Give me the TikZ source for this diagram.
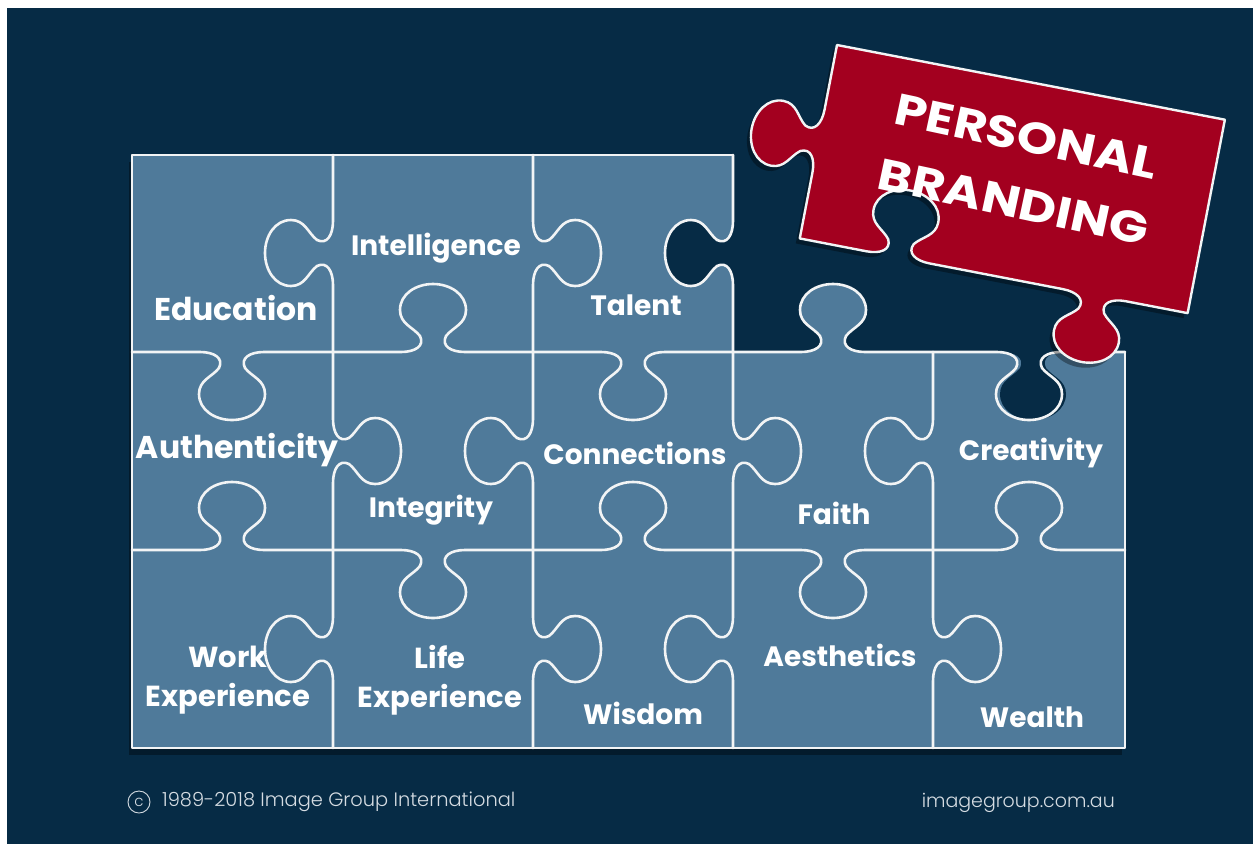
\documentclass[tikz,border=0pt]{standalone}
\usepackage{fontspec}
\setmainfont{Poppins}
\newfontfamily\footfont{Poppins Light}
\usetikzlibrary{shadows}
\definecolor{navy}{HTML}{062B45}
\definecolor{board}{HTML}{4F7A9A}
\definecolor{brand}{HTML}{A3001F}
\definecolor{chalk}{HTML}{F2F4F5}
\definecolor{foot}{HTML}{D5DCE2}

% horizontal edge of length 200 from x0 (#1) at y (#2), direction #3 (+1 right,-1 left), knob side #4 (+1 down,-1 up)
\newcommand\hk[4]{%
 -- ({#1+(#3)*68},{#2})
 .. controls ({#1+(#3)*82},{#2}) and ({#1+(#3)*92},{#2+(#4)*6}) .. ({#1+(#3)*87},{#2+(#4)*16})
 .. controls ({#1+(#3)*80},{#2+(#4)*25}) and ({#1+(#3)*67},{#2+(#4)*28}) .. ({#1+(#3)*67},{#2+(#4)*42})
 .. controls ({#1+(#3)*67},{#2+(#4)*58}) and ({#1+(#3)*83},{#2+(#4)*68}) .. ({#1+(#3)*100},{#2+(#4)*68})
 .. controls ({#1+(#3)*117},{#2+(#4)*68}) and ({#1+(#3)*133},{#2+(#4)*58}) .. ({#1+(#3)*133},{#2+(#4)*42})
 .. controls ({#1+(#3)*133},{#2+(#4)*28}) and ({#1+(#3)*120},{#2+(#4)*25}) .. ({#1+(#3)*113},{#2+(#4)*16})
 .. controls ({#1+(#3)*108},{#2+(#4)*6}) and ({#1+(#3)*118},{#2}) .. ({#1+(#3)*132},{#2})}
% vertical edge of length 200 at x (#1) from y0 (#2), direction #3 (+1 down,-1 up), knob side #4 (+1 right,-1 left)
\newcommand\vk[4]{%
 -- ({#1},{#2+(#3)*68})
 .. controls ({#1},{#2+(#3)*82}) and ({#1+(#4)*6},{#2+(#3)*92}) .. ({#1+(#4)*16},{#2+(#3)*87})
 .. controls ({#1+(#4)*25},{#2+(#3)*80}) and ({#1+(#4)*28},{#2+(#3)*67}) .. ({#1+(#4)*42},{#2+(#3)*67})
 .. controls ({#1+(#4)*58},{#2+(#3)*67}) and ({#1+(#4)*68},{#2+(#3)*83}) .. ({#1+(#4)*68},{#2+(#3)*100})
 .. controls ({#1+(#4)*68},{#2+(#3)*117}) and ({#1+(#4)*58},{#2+(#3)*133}) .. ({#1+(#4)*42},{#2+(#3)*133})
 .. controls ({#1+(#4)*28},{#2+(#3)*133}) and ({#1+(#4)*25},{#2+(#3)*120}) .. ({#1+(#4)*16},{#2+(#3)*113})
 .. controls ({#1+(#4)*6},{#2+(#3)*108}) and ({#1},{#2+(#3)*118}) .. ({#1},{#2+(#3)*132})}

\tikzset{
  chalkline/.style={draw=chalk, line width=2.6pt, line join=round, line cap=round},
  lbl/.style={text=white, font=\bfseries\fontsize{28}{39}\selectfont, align=center, inner sep=0pt},
  biglbl/.style={lbl, font=\bfseries\fontsize{31.5}{39}\selectfont},
  brandtxt/.style={text=white, font=\bfseries\fontsize{44}{48}\selectfont, inner sep=0pt},
  foottxt/.style={text=foot, font=\footfont\fontsize{19.4}{22}\selectfont, inner sep=0pt}
}

\begin{document}
\begin{tikzpicture}[x=1pt, y=-1pt]
\useasboundingbox (0,0) rectangle (1253,844);
\fill[white] (0,0) rectangle (1253,844);
\fill[navy] (7,8) rectangle (1253,844);

% board
\fill[board, drop shadow={shadow xshift=-3pt, shadow yshift=-7pt, opacity=0.35, fill=black}]
  (132,155) rectangle (1125,748);

% missing area (where the red piece belongs)
\fill[navy] (733,155) \vk{733}{153}{1}{-1} -- (733,352)
  \hk{733}{352}{1}{-1} \hk{933}{352}{1}{1} -- (1125,352) -- (1125,150) -- (733,150) -- cycle;

% grid lines
\path[chalkline] (333,155) \vk{333}{153}{1}{-1} \vk{333}{351}{1}{1} \vk{333}{549}{1}{-1} -- (333,748);
\path[chalkline] (533,155) \vk{533}{153}{1}{1} \vk{533}{351}{1}{-1} \vk{533}{549}{1}{1} -- (533,748);
\path[chalkline] (733,155) \vk{733}{153}{1}{-1} \vk{733}{351}{1}{1} \vk{733}{549}{1}{-1} -- (733,748);
\path[chalkline] (933,352) \vk{933}{351}{1}{-1} \vk{933}{549}{1}{1} -- (933,748);
\path[chalkline] (132,352) \hk{132}{352}{1}{1} \hk{333}{352}{1}{-1} \hk{533}{352}{1}{1} \hk{733}{352}{1}{-1} \hk{929}{352}{1}{1} -- (1125,352);
\path[chalkline] (132,550) \hk{132}{550}{1}{-1} \hk{333}{550}{1}{1} \hk{533}{550}{1}{-1} \hk{733}{550}{1}{1} \hk{929}{550}{1}{-1} -- (1125,550);
% board outline
\path[chalkline] (733,155) -- (132,155) -- (132,748) -- (1125,748) -- (1125,352);

% labels
\node[biglbl] (education) at (236,308) {Education};
\node[lbl] (intelligence) at (436,248) {Intelligence};
\node[lbl] (talent) at (636,305) {Talent};
\node[biglbl] (authenticity) at (237,450) {Authenticity};
\node[lbl] (connections) at (635,453) {Connections};
\node[lbl] (creativity) at (1031,453) {Creativity};
\node[lbl] (integrity) at (431,510) {Integrity};
\node[lbl] (faith) at (834,513) {Faith};
\node[lbl, font=\bfseries\fontsize{29}{39}\selectfont] (work) at (228,680) {Work\\Experience};
\node[lbl, font=\bfseries\fontsize{29}{39}\selectfont] (life) at (440,680) {Life\\Experience};
\node[lbl] (wisdom) at (643,713) {Wisdom};
\node[lbl] (aesthetics) at (840,655) {Aesthetics};
\node[lbl] (wealth) at (1032,717) {Wealth};

% red piece
\begin{scope}[shift={(837,45)}, rotate=-10.9]
\path[fill=brand, draw=chalk, line width=2.4pt, line join=round,
      drop shadow={shadow xshift=-4pt, shadow yshift=-5pt, opacity=0.35, fill=black}]
  (0,0) -- (395,0) -- (395,197) \hk{400}{197}{-1}{1} \hk{200}{197}{-1}{-1} -- (0,197)
  \vk{0}{198}{-1}{-1} -- cycle;
\node[brandtxt, transform shape, rotate=-1.2, xscale=1.17] (personal) at (203,54) {PERSONAL};
\node[brandtxt, transform shape, rotate=-1.2, xscale=1.17] (branding) at (203,121) {BRANDING};
\end{scope}

% footer
\node[circle, draw=foot, line width=0.9pt, minimum size=22pt, inner sep=0pt, text=foot,
      font=\footfont\fontsize{15}{15}\selectfont] (copy) at (139,802) {c};
\node[foottxt, anchor=west] (owner) at (162,802) {1989-2018 Image Group International};
\node[foottxt, anchor=east, font=\footfont\fontsize{19}{22}\selectfont] (web) at (1115,803) {imagegroup.com.au};
\end{tikzpicture}
\end{document}
